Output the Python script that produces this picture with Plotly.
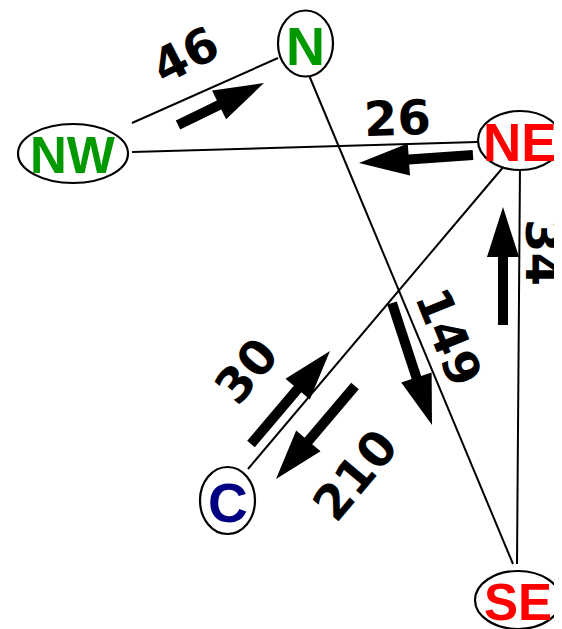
import math
import plotly.graph_objects as go

W, H = 562, 629
PAD = 8  # default page body margin of the browser

# Nodes: name, centre x, centre y, radius x, radius y, label colour
node_names = ["N", "NW", "NE", "C", "SE"]
node_cx = [305.5, 73, 520, 227.5, 518]
node_cy = [43.5, 153.5, 140.5, 500.5, 600]
node_rx = [27.5, 55, 42, 27.5, 43]
node_ry = [33, 29.5, 29.5, 33.5, 29]
node_colors = ["#009900", "#009900", "#ff0000", "#000080", "#ff0000"]
node_font = [54, 51, 53, 55, 51]

# Connecting edges (start x, start y, end x, end y)
edge_x0 = [132, 132, 306, 505, 520]
edge_y0 = [123, 152, 68, 165, 165]
edge_x1 = [278, 477, 513, 248, 517]
edge_y1 = [58, 142, 564, 469, 564]

# Flow arrows: tail -> tip, with flow value labels
flow_values = ["46", "26", "34", "149", "30", "210"]
arrow_tx = [178, 473, 503, 392, 251, 355]
arrow_ty = [125, 155, 325, 303, 444, 386]
arrow_px = [264, 359, 503, 432, 330, 276]
arrow_py = [83, 163, 207, 425, 351, 479]
label_x = [185, 397, 543, 449, 246, 355]
label_y = [55, 118, 252, 337, 371, 475]
label_angle = [-27, -2, 90, 68, -50, -50]

SHAFT, HEAD_L, HEAD_W = 10, 50, 32


def arrow_path(tx, ty, px, py):
    dx, dy = px - tx, py - ty
    L = math.hypot(dx, dy)
    ux, uy = dx / L, dy / L
    nx, ny = -uy, ux
    bx, by = px - HEAD_L * ux, py - HEAD_L * uy
    pts = [
        (tx + nx * SHAFT / 2, ty + ny * SHAFT / 2),
        (bx + nx * SHAFT / 2, by + ny * SHAFT / 2),
        (bx + nx * HEAD_W / 2, by + ny * HEAD_W / 2),
        (px, py),
        (bx - nx * HEAD_W / 2, by - ny * HEAD_W / 2),
        (bx - nx * SHAFT / 2, by - ny * SHAFT / 2),
        (tx - nx * SHAFT / 2, ty - ny * SHAFT / 2),
    ]
    return "M " + " L ".join(f"{x:.2f},{y:.2f}" for x, y in pts) + " Z"


fig = go.Figure()
fig.add_trace(go.Scatter(x=[PAD, W], y=[PAD, H], mode="markers",
                         marker=dict(opacity=0), hoverinfo="skip", showlegend=False))

shapes = []
for x0, y0, x1, y1 in zip(edge_x0, edge_y0, edge_x1, edge_y1):
    shapes.append(dict(type="line", x0=x0, y0=y0, x1=x1, y1=y1,
                       line=dict(color="black", width=2), layer="above"))
for tx, ty, px, py in zip(arrow_tx, arrow_ty, arrow_px, arrow_py):
    shapes.append(dict(type="path", path=arrow_path(tx, ty, px, py),
                       fillcolor="black", line=dict(color="black", width=0), layer="above"))
for cx, cy, rx, ry in zip(node_cx, node_cy, node_rx, node_ry):
    shapes.append(dict(type="circle", x0=cx - rx, x1=cx + rx, y0=cy - ry, y1=cy + ry,
                       fillcolor="white", line=dict(color="black", width=2.2), layer="above"))

annotations = []
for name, cx, cy, col, fs in zip(node_names, node_cx, node_cy, node_colors, node_font):
    annotations.append(dict(x=cx, y=cy + 2, text=name, showarrow=False,
                            xanchor="center", yanchor="middle",
                            font=dict(family="Liberation Sans", size=fs, color=col, weight="bold")))
for v, lx, ly, ang in zip(flow_values, label_x, label_y, label_angle):
    annotations.append(dict(x=lx, y=ly, text=v, showarrow=False, textangle=ang,
                            xanchor="center", yanchor="middle",
                            font=dict(family="DejaVu Sans", size=48, color="black", weight="bold")))

fig.update_layout(
    width=W - PAD, height=H - PAD, margin=dict(l=0, r=0, t=0, b=0),
    paper_bgcolor="white", plot_bgcolor="white",
    xaxis=dict(range=[PAD, W], visible=False, fixedrange=True),
    yaxis=dict(range=[H, PAD], visible=False, fixedrange=True),
    shapes=shapes, annotations=annotations, showlegend=False,
)
fig.write_html("out.html")
